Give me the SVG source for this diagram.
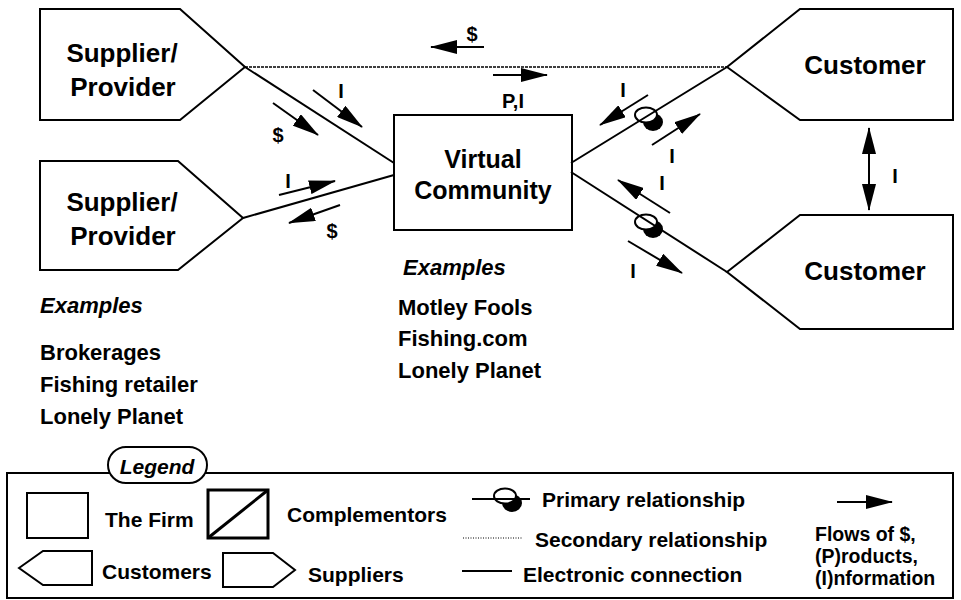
<svg xmlns="http://www.w3.org/2000/svg" width="961" height="600" viewBox="0 0 961 600">
  <defs>
    <style>
      text { font-family: "Liberation Sans", Arial, sans-serif; font-weight: bold; fill: #000; }
      .node { fill: #fff; stroke: #000; stroke-width: 2; }
      .big { font-size: 26px; }
      .vc { font-size: 25px; }
      .lbl { font-size: 20px; }
      .ex { font-size: 22px; }
      .it { font-style: italic; }
      .leg { font-size: 21px; }
      .flowtxt { font-size: 19.5px; }
      .mid { text-anchor: middle; }
      .wire { stroke: #000; stroke-width: 2; fill: none; }
      .flow { stroke: #000; stroke-width: 2; fill: none; marker-end: url(#head); }
      .dots { stroke: #000; stroke-width: 1.6; fill: none; stroke-dasharray: 3 1; }
    </style>
    <marker id="head" viewBox="0 0 27 14" markerWidth="27" markerHeight="14" refX="26" refY="7" orient="auto" markerUnits="userSpaceOnUse">
      <path d="M0,0 L27,7 L0,14 z" fill="#000"/>
    </marker>
    <marker id="tail" viewBox="0 0 27 14" markerWidth="27" markerHeight="14" refX="1" refY="7" orient="auto" markerUnits="userSpaceOnUse">
      <path d="M27,0 L0,7 L27,14 z" fill="#000"/>
    </marker>
    <!-- primary relationship badge: outlined ellipse over a black crescent -->
    <g id="primary">
      <ellipse cx="7" cy="7" rx="10" ry="9" fill="#000"/>
      <ellipse cx="0" cy="0" rx="11" ry="7.5" fill="#fff" stroke="#000" stroke-width="2"/>
    </g>
  </defs>

  <!-- suppliers -->
  <g id="supplier-top">
    <polygon class="node" points="40,9 180,9 245,67 180,120 40,120"/>
    <text class="big mid" x="122" y="62">Supplier/</text>
    <text class="big mid" x="123" y="96">Provider</text>
  </g>
  <g id="supplier-bottom">
    <polygon class="node" points="40,161 178,161 243,218 178,270 40,270"/>
    <text class="big mid" x="122" y="211">Supplier/</text>
    <text class="big mid" x="123" y="245">Provider</text>
  </g>

  <!-- the firm -->
  <g id="virtual-community">
    <rect class="node" x="394" y="115" width="178" height="115"/>
    <text class="vc mid" x="483" y="168">Virtual</text>
    <text class="vc mid" x="483" y="199">Community</text>
  </g>

  <!-- customers -->
  <g id="customer-top">
    <polygon class="node" points="727,67 800,9 953,9 953,120 800,120"/>
    <text class="big mid" x="865" y="74">Customer</text>
  </g>
  <g id="customer-bottom">
    <polygon class="node" points="727,272 800,215 953,215 953,329 800,329"/>
    <text class="big mid" x="865" y="280">Customer</text>
  </g>

  <!-- connectors -->
  <g id="connectors">
    <line class="dots" x1="245" y1="67" x2="727" y2="67"/>
    <use href="#primary" x="646" y="115"/>
    <use href="#primary" x="646" y="222"/>
    <line class="wire" x1="245" y1="67" x2="394" y2="163"/>
    <line class="wire" x1="243" y1="218" x2="394" y2="175"/>
    <line class="wire" x1="571" y1="163" x2="727" y2="67"/>
    <line class="wire" x1="571" y1="172" x2="727" y2="272"/>

    <!-- flow arrows -->
    <line class="flow" x1="484" y1="47" x2="431" y2="47"/>
    <line class="flow" x1="493" y1="75" x2="547" y2="75"/>
    <line class="flow" x1="313" y1="90" x2="362" y2="127"/>
    <line class="flow" x1="273" y1="103" x2="318" y2="135"/>
    <line class="flow" x1="279" y1="195" x2="335" y2="181"/>
    <line class="flow" x1="340" y1="205" x2="289" y2="223"/>
    <line class="flow" x1="648" y1="95" x2="600" y2="125"/>
    <line class="flow" x1="652" y1="145" x2="700" y2="114"/>
    <line class="flow" x1="670" y1="213" x2="618" y2="180"/>
    <line class="flow" x1="628" y1="241" x2="682" y2="273"/>
    <line class="flow" x1="869" y1="128" x2="869" y2="210" marker-start="url(#tail)"/>

    <!-- flow labels -->
    <text class="lbl mid" x="472" y="41">$</text>
    <text class="lbl mid" x="513" y="108">P,I</text>
    <text class="lbl mid" x="341" y="98">I</text>
    <text class="lbl mid" x="278" y="142">$</text>
    <text class="lbl mid" x="288" y="188">I</text>
    <text class="lbl mid" x="332" y="238">$</text>
    <text class="lbl mid" x="623" y="97">I</text>
    <text class="lbl mid" x="672" y="163">I</text>
    <text class="lbl mid" x="662" y="190">I</text>
    <text class="lbl mid" x="633" y="278">I</text>
    <text class="lbl mid" x="895" y="183">I</text>
  </g>

  <!-- example lists -->
  <g id="supplier-examples">
    <text class="ex it" x="40" y="313">Examples</text>
    <text class="ex" x="40" y="360">Brokerages</text>
    <text class="ex" x="40" y="392">Fishing retailer</text>
    <text class="ex" x="40" y="424">Lonely Planet</text>
  </g>
  <g id="community-examples">
    <text class="ex it" x="403" y="275">Examples</text>
    <text class="ex" x="398" y="315">Motley Fools</text>
    <text class="ex" x="398" y="346">Fishing.com</text>
    <text class="ex" x="398" y="378">Lonely Planet</text>
  </g>

  <!-- legend -->
  <g id="legend">
    <rect x="7" y="473" width="946" height="125" fill="none" stroke="#000" stroke-width="2"/>
    <rect x="108" y="447" width="99" height="36" rx="18" ry="18" fill="#fff" stroke="#000" stroke-width="2"/>
    <text class="leg it mid" x="157" y="474">Legend</text>

    <rect class="node" x="27" y="493" width="61" height="45"/>
    <text class="leg" x="105" y="527">The Firm</text>

    <rect x="208" y="490" width="60" height="48" fill="#fff" stroke="#000" stroke-width="3"/>
    <line x1="208" y1="538" x2="268" y2="490" stroke="#000" stroke-width="3"/>
    <text class="leg" x="287" y="522">Complementors</text>

    <polygon class="node" points="19,568 43,551 92,551 92,585 43,585"/>
    <text class="leg" x="102" y="579">Customers</text>

    <polygon class="node" points="223,553 273,553 295,570 273,587 223,587"/>
    <text class="leg" x="308" y="582">Suppliers</text>

    <use href="#primary" x="505" y="496"/>
    <line x1="472" y1="499" x2="530" y2="499" stroke="#000" stroke-width="2"/>
    <text class="leg" x="542" y="507">Primary relationship</text>

    <line x1="463" y1="538" x2="523" y2="538" stroke="#000" stroke-width="1.2" stroke-dasharray="1 1.5"/>
    <text class="leg" x="535" y="547">Secondary relationship</text>

    <line x1="462" y1="571" x2="512" y2="571" stroke="#000" stroke-width="2"/>
    <text class="leg" x="523" y="582">Electronic connection</text>

    <line class="flow" x1="837" y1="502" x2="892" y2="502"/>
    <text class="flowtxt" x="815" y="541">Flows of $,</text>
    <text class="flowtxt" x="815" y="563">(P)roducts,</text>
    <text class="flowtxt" x="815" y="585">(I)nformation</text>
  </g>
</svg>
